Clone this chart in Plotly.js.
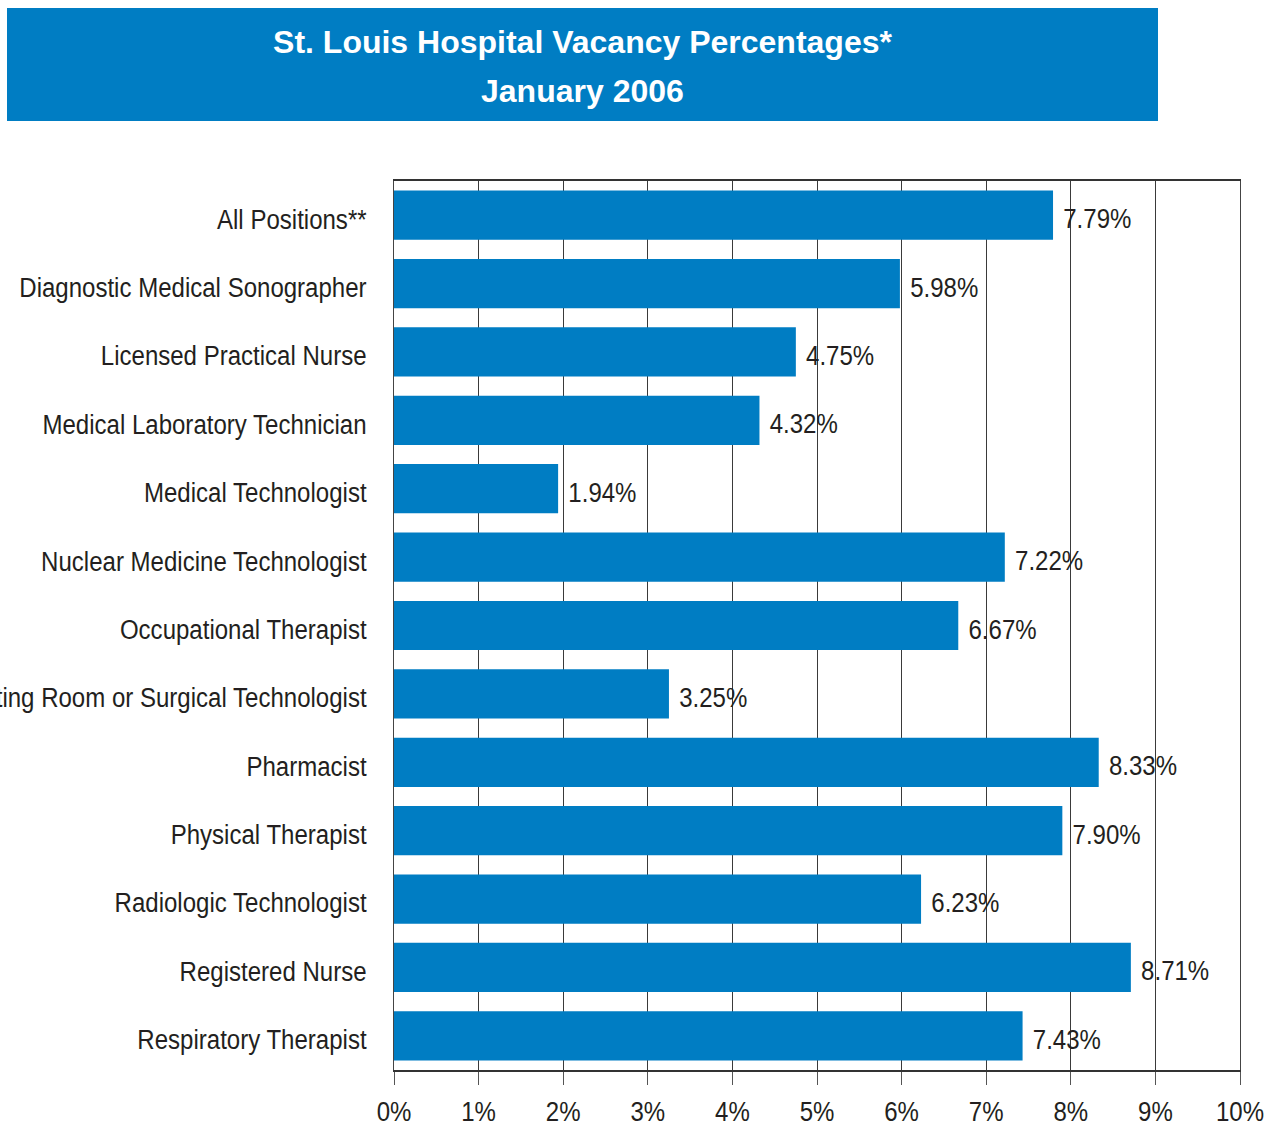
<!DOCTYPE html>
<html>
<head>
<meta charset="utf-8">
<script src="https://cdn.plot.ly/plotly-3.0.1.min.js"></script>
<style>html,body{margin:0;padding:0;background:#fff;}#chart{width:1277px;height:1127px;}</style>
</head>
<body>
<div id="chart"></div>
<script>
const categories = [
  "All Positions**",
  "Diagnostic Medical Sonographer",
  "Licensed Practical Nurse",
  "Medical Laboratory Technician",
  "Medical Technologist",
  "Nuclear Medicine Technologist",
  "Occupational Therapist",
  "Operating Room or Surgical Technologist",
  "Pharmacist",
  "Physical Therapist",
  "Radiologic Technologist",
  "Registered Nurse",
  "Respiratory Therapist"
];
const vacancyPct = [7.79, 5.98, 4.75, 4.32, 1.94, 7.22, 6.67, 3.25, 8.33, 7.90, 6.23, 8.71, 7.43];
const tickValues = [0,1,2,3,4,5,6,7,8,9,10];
const tickLabels = ["0%","1%","2%","3%","4%","5%","6%","7%","8%","9%","10%"];
const titleLine1 = "St. Louis Hospital Vacancy Percentages*";
const titleLine2 = "January 2006";

const FONT = "'Liberation Sans Narrow', 'Arial Narrow', 'Liberation Sans', Arial, sans-serif";
const BLUE = "#007DC3";
const TEXT = "#231f20";

const W = 1277, H = 1127;
const L = 394, R = 37, T = 181, B = 57;
const pw = W - L - R, ph = H - T - B;
const px = x => (x - L) / pw;
const py = y => (H - B - y) / ph;

const trace = {
  type: "bar",
  orientation: "h",
  x: vacancyPct,
  y: categories,
  marker: {color: BLUE},
  text: vacancyPct.map(v => v.toFixed(2) + "%"),
  textposition: "outside",
  cliponaxis: false,
  textfont: {family: FONT, size: 27, color: TEXT},
  hoverinfo: "skip"
};

const layout = {
  width: W, height: H,
  margin: {l: L, r: R, t: T, b: B, pad: 0},
  paper_bgcolor: "#fff",
  plot_bgcolor: "#fff",
  showlegend: false,
  bargap: 0.28,
  font: {family: FONT, color: TEXT},
  title: {
    text: titleLine1,
    font: {family: FONT, size: 32, color: "#fff", weight: "bold"},
    x: 582.5 / W, xanchor: "center",
    y: 1 - 42 / H, yanchor: "middle",
    xref: "container", yref: "container"
  },
  xaxis: {
    range: [0, 10],
    tickvals: tickValues,
    ticktext: tickLabels,
    ticks: "outside",
    ticklen: 13,
    tickwidth: 1,
    tickcolor: "#555",
    tickfont: {family: FONT, size: 27, color: TEXT},
    showgrid: true,
    gridcolor: "#3a3a3a",
    gridwidth: 1,
    showline: true,
    linecolor: "#333",
    linewidth: 2,
    mirror: true,
    zeroline: false,
    fixedrange: true
  },
  yaxis: {
    autorange: "reversed",
    type: "category",
    ticks: "",
    ticklabelstandoff: 21,
    tickfont: {family: FONT, size: 27, color: TEXT},
    showline: true,
    linecolor: "#444",
    linewidth: 1,
    mirror: true,
    showgrid: false,
    zeroline: false,
    fixedrange: true
  },
  shapes: [{
    type: "rect", xref: "paper", yref: "paper",
    x0: px(7), x1: px(1158), y0: py(121), y1: py(8),
    fillcolor: BLUE, line: {width: 0}, layer: "below"
  }],
  annotations: [{
    text: titleLine2,
    xref: "paper", yref: "paper",
    x: px(582.5), y: py(91), xanchor: "center", yanchor: "middle",
    showarrow: false,
    font: {family: FONT, size: 32, color: "#fff", weight: "bold"}
  }]
};

// Emulate the condensed typeface of the original by narrowing the glyphs,
// and nudge the labels a little as in the original.
function condense(scale, shiftY, barShiftX) {
  document.querySelectorAll("#chart .ytick text, #chart .xtick text, #chart text.bartext").forEach(t => {
    const len = t.getComputedTextLength();
    if (len > 0) {
      t.setAttribute("textLength", (len * scale).toFixed(2));
      t.setAttribute("lengthAdjust", "spacingAndGlyphs");
    }
    const y = parseFloat(t.getAttribute("y") || "0");
    t.setAttribute("y", (y + shiftY).toFixed(2));
    if (t.classList.contains("bartext")) {
      const x = parseFloat(t.getAttribute("x") || "0");
      t.setAttribute("x", (x + barShiftX).toFixed(2));
    }
  });
}

Plotly.newPlot("chart", [trace], layout, {displayModeBar: false, staticPlot: true})
  .then(() => condense(0.89, 4, 3));
</script>
</body>
</html>
